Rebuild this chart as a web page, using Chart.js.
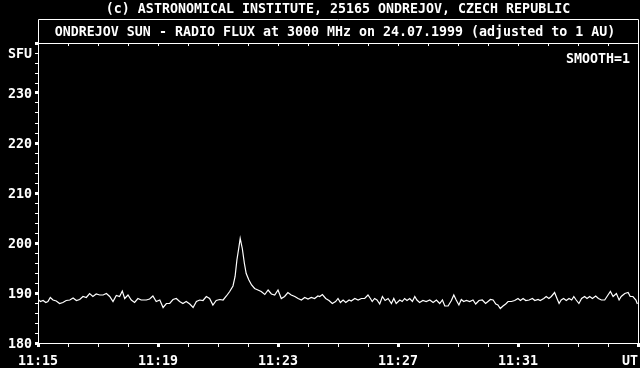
<!DOCTYPE html>
<html>
<head>
<meta charset="utf-8">
<script src="https://cdn.jsdelivr.net/npm/chart.js@4.4.1/dist/chart.umd.min.js"></script>
<style>
  html, body { margin: 0; padding: 0; background: #000; }
  #wrap { width: 640px; height: 368px; }
</style>
</head>
<body>
<div id="wrap"><canvas id="chart" width="640" height="368"></canvas></div>
<script>
const header = "(c) ASTRONOMICAL INSTITUTE, 25165 ONDREJOV, CZECH REPUBLIC";
const title = "ONDREJOV SUN - RADIO FLUX at 3000 MHz on 24.07.1999 (adjusted to 1 AU)";
const note = "SMOOTH=1";
const yUnit = "SFU";
const timeLabels = ["11:15", "11:19", "11:23", "11:27", "11:31", "UT"];

// minutes after 11:15 UT
const minutes = [
  0.00, 0.08, 0.17, 0.26, 0.33, 0.41, 0.50, 0.61, 0.72, 0.83, 0.94, 1.06, 1.17, 1.28, 1.39, 1.50,
  1.61, 1.72, 1.83, 1.94, 2.06, 2.17, 2.28, 2.39, 2.50, 2.61, 2.72, 2.81, 2.89, 3.00, 3.11, 3.22,
  3.33, 3.44, 3.61, 3.72, 3.83, 3.94, 4.06, 4.17, 4.28, 4.39, 4.50, 4.61, 4.72, 4.83, 4.94, 5.06,
  5.17, 5.28, 5.39, 5.50, 5.61, 5.72, 5.83, 5.94, 6.06, 6.17, 6.28, 6.39, 6.50, 6.57, 6.63, 6.70,
  6.74, 6.81, 6.88, 6.94, 7.03, 7.12, 7.22, 7.33, 7.44, 7.56, 7.67, 7.78, 7.89, 8.00, 8.11, 8.22,
  8.33, 8.44, 8.56, 8.67, 8.78, 8.89, 9.00, 9.11, 9.22, 9.33, 9.39, 9.48, 9.59, 9.70, 9.81, 9.92,
  10.00, 10.08, 10.17, 10.26, 10.37, 10.44, 10.56, 10.67, 10.78, 10.89, 11.00, 11.08, 11.14, 11.22,
  11.30, 11.39, 11.48, 11.57, 11.67, 11.78, 11.86, 11.94, 12.06, 12.14, 12.22, 12.30, 12.39, 12.48,
  12.56, 12.63, 12.72, 12.83, 12.94, 13.06, 13.17, 13.28, 13.39, 13.48, 13.56, 13.67, 13.78, 13.86,
  13.94, 14.03, 14.11, 14.19, 14.28, 14.39, 14.50, 14.59, 14.70, 14.81, 14.92, 15.00, 15.08, 15.17,
  15.26, 15.33, 15.41, 15.50, 15.59, 15.67, 15.78, 15.89, 16.00, 16.08, 16.17, 16.26, 16.37, 16.48,
  16.56, 16.67, 16.74, 16.86, 16.94, 17.03, 17.11, 17.22, 17.30, 17.37, 17.44, 17.52, 17.61, 17.70,
  17.79, 17.86, 17.94, 18.03, 18.12, 18.22, 18.30, 18.39, 18.48, 18.59, 18.68, 18.78, 18.89, 19.00,
  19.08, 19.17, 19.28, 19.37, 19.44, 19.56, 19.67, 19.74, 19.83, 19.93, 19.98
];

const sfu = [
  188.7, 188.3, 188.5, 188.1, 188.3, 189.1, 188.6, 188.4, 187.9, 188.1, 188.5, 188.6, 189.0, 188.5, 188.7, 189.3,
  189.1, 189.9, 189.3, 189.8, 189.6, 189.6, 189.9, 189.3, 188.3, 189.5, 189.3, 190.4, 188.9, 189.6, 188.6, 188.1,
  188.9, 188.6, 188.6, 188.8, 189.4, 188.3, 188.6, 187.1, 187.9, 187.9, 188.7, 188.9, 188.3, 187.9, 188.3, 187.8,
  187.1, 188.3, 188.6, 188.5, 189.3, 188.9, 187.6, 188.5, 188.7, 188.6, 189.4, 190.3, 191.4, 193.3, 196.6, 199.3,
  200.9, 198.9, 195.9, 193.9, 192.6, 191.6, 190.9, 190.6, 190.3, 189.7, 190.6, 189.8, 189.6, 190.6, 188.9, 189.3,
  190.1, 189.6, 189.3, 188.9, 188.6, 189.1, 188.8, 189.1, 188.9, 189.4, 189.3, 189.7, 188.9, 188.5, 187.9, 188.3,
  188.9, 188.1, 188.6, 188.1, 188.6, 188.4, 188.9, 188.6, 188.9, 188.9, 189.6, 188.9, 188.3, 188.9,
  188.6, 187.8, 189.3, 188.5, 188.9, 187.9, 188.9, 187.9, 188.6, 188.3, 188.9, 188.5, 188.9, 188.3,
  189.3, 188.6, 188.1, 188.5, 188.3, 188.6, 188.1, 188.6, 187.9, 188.6, 187.4, 187.4, 188.5, 189.6,
  188.6, 187.6, 188.7, 188.3, 188.5, 188.3, 188.6, 187.8, 188.5, 188.6, 187.9, 188.3, 188.7, 188.6,
  187.8, 187.6, 186.9, 187.4, 187.8, 188.3, 188.3, 188.5, 188.9, 188.5, 188.9, 188.5, 188.6, 188.9,
  188.5, 188.7, 188.5, 188.9, 189.3, 188.9, 189.3, 190.1, 188.9, 187.9, 188.6, 188.9, 188.5, 188.9,
  188.6, 189.3, 188.6, 187.9, 188.9, 189.3, 188.9, 189.3, 188.9, 189.4, 188.9, 188.6, 188.6, 189.6,
  190.3, 189.3, 189.9, 188.6, 189.3, 189.9, 190.1, 189.3, 189.3, 188.6, 187.8
];

const FONT = { family: "'DejaVu Sans Mono', monospace", size: 13.3, weight: "bold" };
const FONT_CSS = "bold 13.3px 'DejaVu Sans Mono', monospace";

const points = minutes.map((m, i) => ({ x: m, y: sfu[i] }));

const frame = {
  id: "frame",
  beforeDraw(chart) {
    const ctx = chart.ctx;
    ctx.save();
    ctx.fillStyle = "#000";
    ctx.fillRect(0, 0, chart.width, chart.height);
    ctx.restore();
  },
  afterDraw(chart) {
    const { ctx, chartArea: a } = chart;
    const boxTop = a.top - 24;
    ctx.save();
    ctx.strokeStyle = "#fff";
    ctx.lineWidth = 1;
    ctx.beginPath();
    ctx.moveTo(a.left + 0.5, a.bottom + 0.5);
    ctx.lineTo(a.left + 0.5, boxTop + 0.5);
    ctx.lineTo(a.right + 0.5, boxTop + 0.5);
    ctx.lineTo(a.right + 0.5, a.bottom + 0.5);
    ctx.lineTo(a.left + 0.5, a.bottom + 0.5);
    ctx.moveTo(a.left, a.top + 0.5);
    ctx.lineTo(a.right, a.top + 0.5);
    // small ticks under the title box
    const xs = chart.scales.x;
    for (let v = 1; v < 20; v++) {
      const px = Math.round(xs.getPixelForValue(v)) + 0.5;
      ctx.moveTo(px, a.top);
      ctx.lineTo(px, a.top + 3);
    }
    ctx.stroke();

    ctx.fillStyle = "#fff";
    ctx.font = FONT_CSS;
    ctx.textBaseline = "alphabetic";
    ctx.textAlign = "center";
    ctx.fillText(header, 338, 13);
    ctx.fillText(title, 335, 36);
    ctx.textAlign = "right";
    ctx.fillText(note, 630, 63);
    ctx.restore();
  }
};

new Chart(document.getElementById("chart"), {
  type: "line",
  data: {
    datasets: [{
      data: points,
      borderColor: "#fff",
      borderWidth: 1.2,
      pointRadius: 0,
      tension: 0
    }]
  },
  options: {
    responsive: false,
    animation: false,
    events: [],
    layout: { padding: { top: 43, right: 2, left: 0, bottom: 0 } },
    plugins: { legend: { display: false }, tooltip: { enabled: false } },
    scales: {
      x: {
        type: "linear",
        min: 0,
        max: 20,
        border: { display: false },
        grid: {
          drawOnChartArea: false,
          tickLength: 4,
          color: "#fff",
          lineWidth: c => (c.tick && c.tick.value % 4 === 0 ? 3 : 1)
        },
        ticks: {
          stepSize: 1,
          autoSkip: false,
          maxRotation: 0,
          color: "#fff",
          font: FONT,
          padding: 7,
          callback: v => {
            if (v % 4 !== 0) return "";
            return v === 20 ? timeLabels[5] + "  " : timeLabels[v / 4];
          }
        },
        afterFit: s => { s.height = 25; s.paddingLeft = 0; s.paddingRight = 0; }
      },
      y: {
        min: 180,
        max: 240,
        border: { display: false },
        grid: {
          drawOnChartArea: false,
          tickLength: 3,
          color: "#fff",
          lineWidth: c => (c.tick && c.tick.value % 10 === 0 ? 3 : 1)
        },
        ticks: {
          stepSize: 2,
          autoSkip: false,
          color: "#fff",
          font: FONT,
          padding: 3,
          labelOffset: 2,
          callback: v => {
            if (v === 238) return yUnit;
            return v % 10 === 0 && v < 240 ? String(v) : "";
          }
        },
        afterFit: s => { s.width = 38; }
      }
    }
  },
  plugins: [frame]
});
</script>
</body>
</html>
